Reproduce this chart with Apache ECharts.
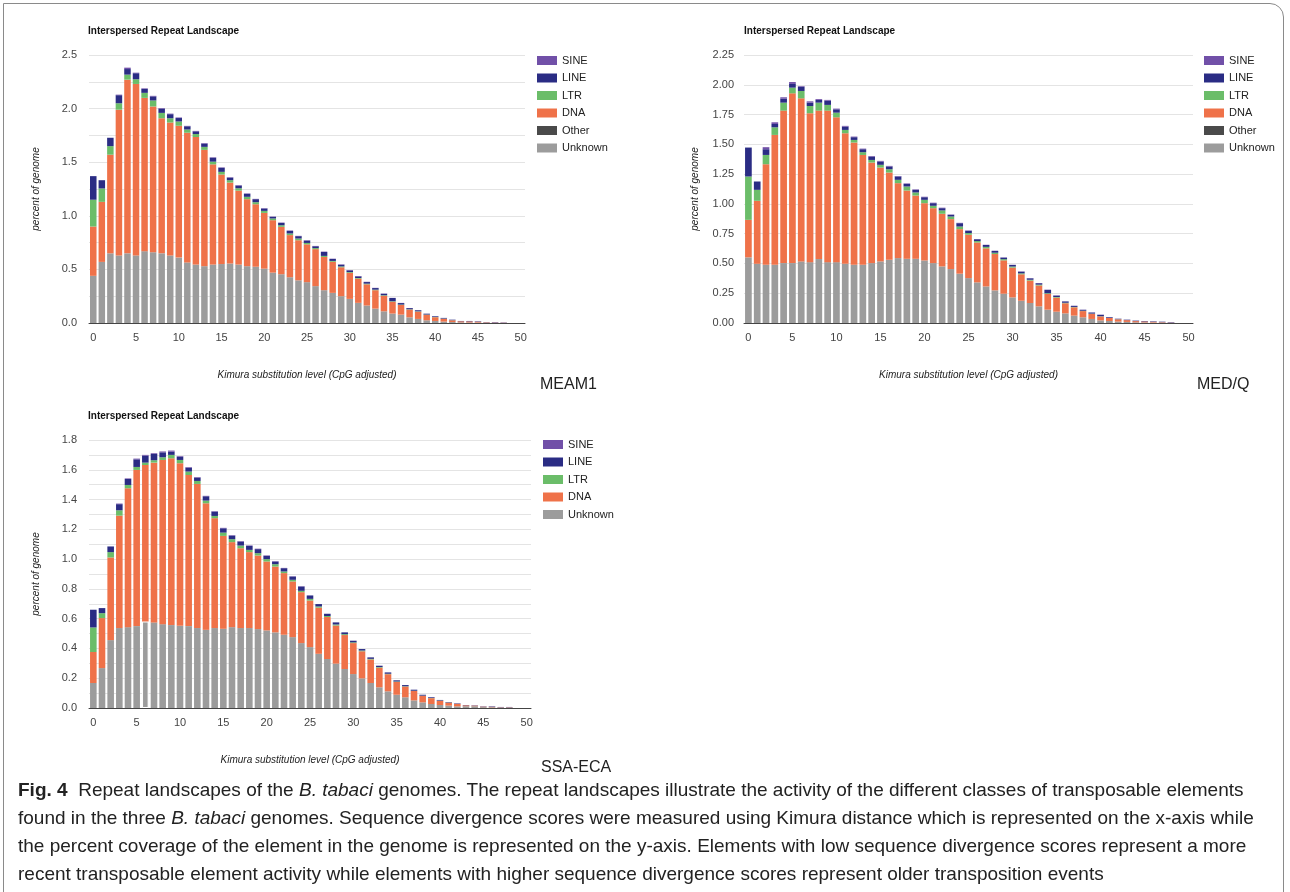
<!DOCTYPE html>
<html>
<head>
<meta charset="utf-8">
<script src="https://cdn.jsdelivr.net/npm/echarts@6/dist/echarts.min.js"></script>
<style>
  html, body { margin:0; padding:0; background:#fff; }
  #wrap { position:relative; width:1290px; height:892px; overflow:hidden; }
  #chart { position:absolute; left:0; top:0; width:1290px; height:892px; }
  #frame { position:absolute; left:3px; top:3px; width:1281px; height:920px; border:1px solid #8a8a8a; border-top-right-radius:14px; box-sizing:border-box; pointer-events:none; }
  #caption { position:absolute; left:18px; top:776px; font-family:'Liberation Sans', Arial, sans-serif; font-size:19px; line-height:28px; color:#222; white-space:nowrap; }
  #caption b { font-weight:bold; color:#222; }
</style>
</head>
<body>
<div id="wrap">
  <div id="chart"></div>
  <div id="frame"></div>
  <div id="caption"><b>Fig. 4</b>&nbsp; Repeat landscapes of the <i>B. tabaci</i> genomes. The repeat landscapes illustrate the activity of the different classes of transposable elements<br>found in the three <i>B. tabaci</i> genomes. Sequence divergence scores were measured using Kimura distance which is represented on the x-axis while<br>the percent coverage of the element in the genome is represented on the y-axis. Elements with low sequence divergence scores represent a more<br>recent transposable element activity while elements with higher sequence divergence scores represent older transposition events</div>
</div>
<script>
// ---- categories (Kimura substitution level) ----
const kimura = [0,1,2,3,4,5,6,7,8,9,10,11,12,13,14,15,16,17,18,19,20,21,22,23,24,25,26,27,28,29,30,31,32,33,34,35,36,37,38,39,40,41,42,43,44,45,46,47,48,49,50];
const legendOrder = ['SINE','LINE','LTR','DNA','Other','Unknown'];
const legendOrderSSA = ['SINE','LINE','LTR','DNA','Unknown'];

// ---- MEAM1 (percent of genome per class) ----
const meam1Unknown = [0.44,0.57,0.65,0.63,0.65,0.63,0.67,0.66,0.65,0.63,0.61,0.565,0.545,0.53,0.545,0.55,0.555,0.545,0.53,0.525,0.507,0.47,0.455,0.427,0.398,0.381,0.344,0.306,0.281,0.25,0.225,0.188,0.163,0.134,0.109,0.088,0.078,0.053,0.038,0.025,0.019,0.013,0.009,0.006,0.005,0.004,0.003,0.002,0.001];
const meam1Other = [];
const meam1DNA = [0.46,0.56,0.92,1.36,1.62,1.60,1.43,1.36,1.26,1.24,1.23,1.21,1.19,1.085,0.935,0.835,0.755,0.69,0.625,0.583,0.52,0.489,0.442,0.393,0.374,0.353,0.345,0.31,0.29,0.27,0.243,0.226,0.198,0.172,0.145,0.11,0.09,0.072,0.068,0.052,0.035,0.027,0.016,0.01,0.01,0.008,0.004,0.003,0.002];
const meam1LTR = [0.25,0.125,0.08,0.06,0.047,0.044,0.047,0.056,0.05,0.04,0.04,0.03,0.028,0.028,0.025,0.025,0.022,0.022,0.022,0.019,0.019,0.016,0.015,0.015,0.016,0.013,0.01,0.01,0.008,0.008,0.007,0.006,0.006,0.005,0.005,0.005,0.004,0.003,0.003,0.002,0.002,0.0015,0.001,0,0,0,0,0,0];
const meam1LINE = [0.22,0.077,0.078,0.075,0.052,0.056,0.037,0.038,0.04,0.038,0.032,0.03,0.025,0.031,0.037,0.038,0.024,0.025,0.028,0.028,0.022,0.015,0.022,0.025,0.022,0.022,0.017,0.037,0.018,0.016,0.016,0.015,0.015,0.015,0.014,0.03,0.014,0.011,0.01,0.008,0.0065,0.006,0.005,0.003,0.004,0.004,0.002,0.003,0.002];
const meam1SINE = [0,0,0,0.005,0.013,0.005,0.005,0.005,0.005,0.005,0.005,0.004,0.004,0.004,0.004,0.004,0.004,0.004,0.004,0.003,0.003,0.003,0.003,0.003,0.003,0.003,0.003,0.003,0.003,0.003,0.003,0.003,0.0025,0.002,0.002,0.0015,0.0015,0.001,0.0005,0,0,0,0,0,0,0,0,0.001,0.001];

// ---- MED/Q ----
const medqUnknown = [0.551,0.497,0.489,0.489,0.503,0.503,0.517,0.511,0.537,0.511,0.511,0.497,0.489,0.489,0.503,0.517,0.531,0.545,0.539,0.539,0.525,0.503,0.475,0.453,0.414,0.377,0.341,0.307,0.274,0.246,0.215,0.187,0.168,0.14,0.112,0.095,0.081,0.062,0.048,0.034,0.022,0.017,0.012,0.009,0.006,0.005,0.004,0.003,0.002];
const medqOther = [];
const medqDNA = [0.315,0.529,0.844,1.09,1.28,1.425,1.369,1.25,1.246,1.272,1.216,1.096,1.026,0.922,0.844,0.788,0.732,0.629,0.573,0.531,0.481,0.461,0.442,0.419,0.374,0.364,0.335,0.32,0.305,0.28,0.25,0.222,0.188,0.175,0.132,0.118,0.085,0.07,0.052,0.043,0.033,0.025,0.019,0.015,0.01,0.008,0.006,0.004,0.002];
const medqLTR = [0.364,0.092,0.078,0.064,0.067,0.048,0.062,0.061,0.067,0.048,0.039,0.028,0.022,0.023,0.022,0.023,0.028,0.028,0.034,0.026,0.028,0.02,0.028,0.022,0.022,0.014,0.012,0.012,0.011,0.01,0.009,0.008,0.007,0.007,0.006,0.005,0.004,0.003,0.003,0.002,0.002,0.001,0.001,0,0,0,0,0,0];
const medqLINE = [0.243,0.07,0.048,0.028,0.034,0.031,0.036,0.028,0.023,0.036,0.028,0.028,0.023,0.025,0.028,0.028,0.023,0.028,0.022,0.022,0.022,0.022,0.019,0.014,0.028,0.019,0.015,0.016,0.015,0.013,0.013,0.014,0.012,0.012,0.028,0.012,0.011,0.009,0.008,0.009,0.012,0.006,0.004,0.004,0.004,0.004,0.004,0.004,0.003];
const medqSINE = [0,0,0.017,0.014,0.011,0.016,0.005,0.011,0.007,0.006,0.006,0.006,0.005,0.005,0.005,0.005,0.005,0.004,0.004,0.004,0.004,0.004,0.004,0.003,0.003,0.003,0.002,0.002,0.002,0.002,0.002,0.002,0.002,0.002,0.002,0.002,0.001,0.001,0.001,0.001,0.001,0.001,0,0,0,0,0,0,0.001];

// ---- SSA-ECA ----
const ssaUnknown = [0.168,0.268,0.456,0.537,0.543,0.55,0.581,0.575,0.563,0.557,0.552,0.55,0.537,0.525,0.537,0.532,0.543,0.537,0.537,0.53,0.521,0.508,0.492,0.476,0.436,0.409,0.364,0.329,0.298,0.262,0.228,0.199,0.168,0.139,0.112,0.089,0.072,0.051,0.038,0.027,0.02,0.016,0.011,0.012,0.012,0.006,0.005,0.003,0.003];
const ssaDNA = [0.208,0.336,0.555,0.755,0.933,1.049,1.051,1.073,1.103,1.12,1.092,1.015,0.968,0.85,0.738,0.624,0.571,0.536,0.51,0.494,0.463,0.442,0.414,0.374,0.342,0.313,0.31,0.282,0.256,0.228,0.208,0.182,0.158,0.132,0.115,0.086,0.072,0.063,0.044,0.039,0.029,0.02,0.017,0.006,0.004,0.003,0.003,0.002,0.002];
const ssaLTR = [0.165,0.033,0.036,0.036,0.022,0.02,0.016,0.016,0.018,0.023,0.022,0.023,0.02,0.018,0.015,0.022,0.02,0.018,0.015,0.016,0.016,0.016,0.011,0.011,0.009,0.011,0.008,0.007,0.007,0.006,0.005,0.005,0.004,0.004,0.003,0.003,0.002,0.002,0.001,0.001,0.001,0.001,0,0,0,0,0,0,0];
const ssaLINE = [0.119,0.034,0.038,0.041,0.04,0.051,0.047,0.042,0.033,0.022,0.022,0.026,0.022,0.029,0.029,0.029,0.024,0.027,0.027,0.027,0.022,0.018,0.022,0.022,0.029,0.023,0.016,0.015,0.014,0.012,0.011,0.01,0.01,0.009,0.009,0.008,0.008,0.007,0.006,0.005,0.004,0.003,0.003,0.002,0.002,0.002,0.003,0.002,0.002];
const ssaSINE = [0,0,0,0.004,0.004,0.005,0.005,0.005,0.006,0.007,0.004,0.004,0.004,0.003,0.003,0.003,0.003,0.003,0.003,0.003,0.003,0.002,0.002,0.002,0.002];

// ---- styling ----
const colors = { SINE:'#7150a8', LINE:'#2a2c84', LTR:'#6bbd69', DNA:'#ef7249', Other:'#4a4a4a', Unknown:'#9c9c9c' };
const FONT = "'Liberation Sans', Arial, sans-serif";

function buildSeries(gi, parts) {
  return parts.map(p => ({
    name: p.name, type: 'bar', stack: 'g' + gi,
    xAxisIndex: gi, yAxisIndex: gi,
    barCategoryGap: '24%',
    itemStyle: { color: colors[p.name] },
    data: p.data, animation: false, silent: true
  }));
}

const series = []
  .concat(buildSeries(0, [
    {name:'Unknown', data: meam1Unknown}, {name:'Other', data: meam1Other},
    {name:'DNA', data: meam1DNA}, {name:'LTR', data: meam1LTR},
    {name:'LINE', data: meam1LINE}, {name:'SINE', data: meam1SINE}]))
  .concat(buildSeries(1, [
    {name:'Unknown', data: medqUnknown}, {name:'Other', data: medqOther},
    {name:'DNA', data: medqDNA}, {name:'LTR', data: medqLTR},
    {name:'LINE', data: medqLINE}, {name:'SINE', data: medqSINE}]))
  .concat(buildSeries(2, [
    {name:'Unknown', data: ssaUnknown.map((v, i) => i === 6 ? {value: v, itemStyle: {borderColor:'#ffffff', borderWidth:1}} : v)},
    {name:'DNA', data: ssaDNA}, {name:'LTR', data: ssaLTR},
    {name:'LINE', data: ssaLINE}, {name:'SINE', data: ssaSINE}]));

const grids = [
  { left: 89, top: 55, width: 436, height: 268 },
  { left: 744, top: 55, width: 449, height: 268 },
  { left: 89, top: 440, width: 442, height: 268 }
];

function xAxis(gi) {
  return {
    type: 'category', gridIndex: gi, data: kimura,
    axisTick: { show: false },
    axisLine: { lineStyle: { color: '#444', width: 1 } },
    axisLabel: { interval: 4, fontSize: 11, color: '#444', fontFamily: FONT, margin: 9 },
    name: 'Kimura substitution level (CpG adjusted)', nameLocation: 'middle', nameGap: 47,
    nameTextStyle: { fontSize: 10, fontStyle: 'italic', color: '#222', fontFamily: FONT }
  };
}
function yAxis(gi, max, interval, labelStep, decimals, margin, nameGap) {
  return {
    type: 'value', gridIndex: gi, min: 0, max: max, interval: interval,
    axisLine: { show: false }, axisTick: { show: false },
    splitLine: { lineStyle: { color: '#e4e4e4', width: 1 } },
    axisLabel: {
      fontSize: 11, color: '#444', fontFamily: FONT, margin: margin,
      formatter: v => { const k = v / labelStep; return Math.abs(k - Math.round(k)) < 1e-6 ? v.toFixed(decimals) : ''; }
    },
    name: 'percent of genome', nameLocation: 'middle', nameGap: nameGap,
    nameTextStyle: { fontSize: 10, fontStyle: 'italic', color: '#222', fontFamily: FONT }
  };
}

function legend(left, top, data) {
  return {
    orient: 'vertical', left: left, top: top, data: data, icon: 'rect', padding: 0,
    itemWidth: 20, itemHeight: 9, itemGap: 6.5, selectedMode: false,
    textStyle: { fontSize: 11, color: '#222', fontFamily: FONT, lineHeight: 9 }
  };
}

const titleStyle = { fontSize: 10, fontWeight: 'bold', color: '#111', fontFamily: FONT };
const tagStyle = { fontSize: 16, fontWeight: 'normal', color: '#222', fontFamily: FONT };

const option = {
  backgroundColor: 'transparent',
  animation: false,
  title: [
    { text: 'Interspersed Repeat Landscape', left: 88, top: 26, textStyle: titleStyle, padding: 0 },
    { text: 'Interspersed Repeat Landscape', left: 744, top: 26, textStyle: titleStyle, padding: 0 },
    { text: 'Interspersed Repeat Landscape', left: 88, top: 411, textStyle: titleStyle, padding: 0 },
    { text: 'MEAM1', left: 540, top: 377, textStyle: tagStyle, padding: 0 },
    { text: 'MED/Q', left: 1197, top: 377, textStyle: tagStyle, padding: 0 },
    { text: 'SSA-ECA', left: 541, top: 760, textStyle: tagStyle, padding: 0 }
  ],
  legend: [
    legend(537, 55, legendOrder),
    legend(1204, 55, legendOrder),
    legend(543, 439, legendOrderSSA)
  ],
  grid: grids,
  xAxis: [xAxis(0), xAxis(1), xAxis(2)],
  yAxis: [
    yAxis(0, 2.5, 0.25, 0.5, 1, 12, 48),
    yAxis(1, 2.25, 0.25, 0.25, 2, 10, 44),
    yAxis(2, 1.8, 0.1, 0.2, 1, 12, 48)
  ],
  series: series
};

const chart = echarts.init(document.getElementById('chart'), null, { renderer: 'canvas' });
chart.setOption(option);
</script>
</body>
</html>
